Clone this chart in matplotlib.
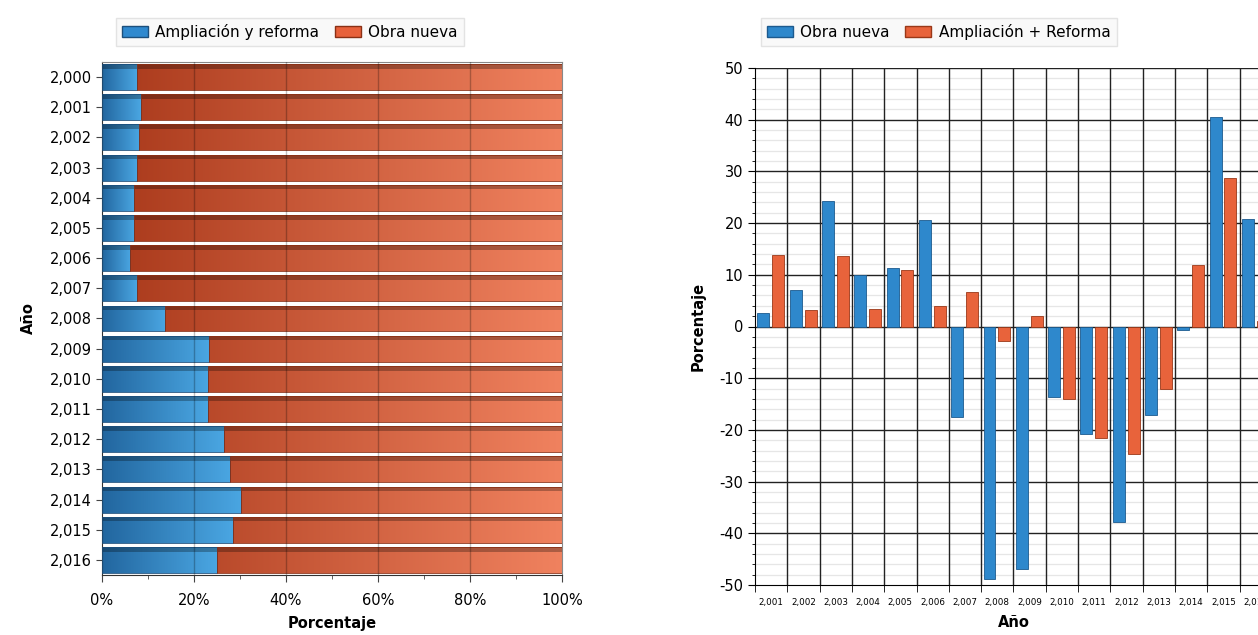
import numpy as np
import matplotlib
matplotlib.use('Agg')
import matplotlib.pyplot as plt
from matplotlib.colors import LinearSegmentedColormap
from matplotlib.patches import Patch
from matplotlib.ticker import MultipleLocator, FixedLocator

# left chart: share of each type (100% stacked)
years_left = [2000, 2001, 2002, 2003, 2004, 2005, 2006, 2007, 2008,
              2009, 2010, 2011, 2012, 2013, 2014, 2015, 2016]
ampliacion_pct = [7.5, 8.4, 8.1, 7.5, 7.0, 7.0, 6.1, 7.6, 13.8,
                  23.2, 23.1, 23.0, 26.5, 27.9, 30.3, 28.4, 24.9]
obra_nueva_pct = [100 - a for a in ampliacion_pct]

# right chart: yearly change (%)
years_right = [2001, 2002, 2003, 2004, 2005, 2006, 2007, 2008,
               2009, 2010, 2011, 2012, 2013, 2014, 2015, 2016]
obra_nueva_var = [2.6, 7.1, 24.3, 10.0, 11.3, 20.6, -17.5, -48.9,
                  -46.9, -13.7, -20.8, -37.9, -17.2, -0.7, 40.6, 20.8]
ampliacion_var = [13.8, 3.2, 13.6, 3.4, 10.9, 4.0, 6.7, -2.9,
                  2.1, -14.1, -21.5, -24.6, -12.1, 11.8, 28.7, 1.1]

W, H = 1258, 635
fig = plt.figure(figsize=(W / 100, H / 100), dpi=100)
plt.rcParams['font.family'] = ['DejaVu Sans']


def grad_bar(ax, patch, c0, c1, x0, x1):
    cmap = LinearSegmentedColormap.from_list('g', [c0, c1])
    y = patch.get_y()
    h = patch.get_height()
    im = ax.imshow(np.linspace(0, 1, 256).reshape(1, -1), cmap=cmap,
                   extent=(x0, x1, y, y + h), aspect='auto', origin='lower',
                   zorder=2, interpolation='bilinear')
    im.set_clip_path(patch)
    # dark top face, fake 3d look (y axis is inverted, so low y is on top)
    ax.barh(y + h * 0.09, patch.get_width(), left=patch.get_x(), height=h * 0.18,
            color='black', alpha=0.28, zorder=3, linewidth=0)


# ---------------- left chart ----------------
ax1 = fig.add_axes([102 / W, 1 - 575 / H, 460 / W, 513 / H])
ypos = np.arange(len(years_left))
b1 = ax1.barh(ypos, ampliacion_pct, height=0.86, facecolor='none',
              edgecolor='#1c4f7c', linewidth=0.6, zorder=4)
b2 = ax1.barh(ypos, obra_nueva_pct, left=ampliacion_pct, height=0.86,
              facecolor='none', edgecolor='#8a3015', linewidth=0.6, zorder=4)
for p in b1:
    grad_bar(ax1, p, '#22669f', '#4aa6e2', 0, max(p.get_width(), 1))
for p in b2:
    grad_bar(ax1, p, '#a8381a', '#f0825f', 0, 100)

ax1.set_xlim(0, 100)
ax1.set_ylim(len(years_left) - 0.5, -0.5)
ax1.set_yticks(ypos)
ax1.set_yticklabels(['{:,}'.format(y) for y in years_left], fontsize=10.5)
ax1.set_xticks([0, 20, 40, 60, 80, 100])
ax1.set_xticklabels(['0%', '20%', '40%', '60%', '80%', '100%'], fontsize=10.5)
ax1.xaxis.set_minor_locator(MultipleLocator(10))
ax1.tick_params(axis='y', length=4, color='#444')
ax1.tick_params(axis='x', length=5, color='#444', pad=8)
ax1.tick_params(axis='x', which='minor', length=3, color='#444')
for x in [20, 40, 60, 80]:
    ax1.axvline(x, color='black', alpha=0.25, lw=1, zorder=5)
for s in ax1.spines.values():
    s.set_color('#888888')
ax1.spines['left'].set_color('#333333')
ax1.spines['bottom'].set_color('#333333')
ax1.set_xlabel('Porcentaje', fontsize=10.5, fontweight='bold', labelpad=6)
ax1.set_ylabel('Año', fontsize=10.5, fontweight='bold', labelpad=10)

leg1 = fig.legend(handles=[Patch(facecolor='#2f89cf', edgecolor='#1c4f7c', label='Ampliación y reforma'),
                           Patch(facecolor='#e8613b', edgecolor='#8a3015', label='Obra nueva')],
                  loc='upper left', bbox_to_anchor=(108 / W, 1 - 10 / H), ncol=2,
                  fontsize=11, frameon=True, fancybox=False, handlelength=1.7,
                  handleheight=0.8, columnspacing=1.0, handletextpad=0.5,
                  borderpad=0.4)
leg1.get_frame().set_edgecolor('#dddddd')
leg1.get_frame().set_facecolor('#f8f8f8')

# ---------------- right chart ----------------
cat_w = 32.3
ax2 = fig.add_axes([755 / W, 1 - 585 / H, 16 * cat_w / W, 517 / H])
ax2.set_axisbelow(True)
xpos = np.arange(len(years_right))
ax2.bar(xpos - 0.24, obra_nueva_var, width=0.37, color='#2e88cc',
        edgecolor='#1c5a8e', linewidth=0.6, zorder=3)
ax2.bar(xpos + 0.22, ampliacion_var, width=0.37, color='#e8633b',
        edgecolor='#9a3818', linewidth=0.6, zorder=3)
ax2.set_xlim(-0.5, len(years_right) - 0.5)
ax2.set_ylim(-50, 50)
ax2.set_yticks(range(-50, 51, 10))
ax2.set_yticklabels([str(v) for v in range(-50, 51, 10)], fontsize=10.5)
ax2.yaxis.set_minor_locator(MultipleLocator(2))
ax2.set_xticks(xpos)
ax2.set_xticklabels(['{:,}'.format(y) for y in years_right], fontsize=6.3)
ax2.xaxis.set_minor_locator(FixedLocator(np.arange(-0.5, len(years_right), 1)))
ax2.tick_params(axis='x', which='major', length=0, pad=9)
ax2.tick_params(axis='x', which='minor', length=5)
ax2.tick_params(axis='y', which='major', length=5)
ax2.tick_params(axis='y', which='minor', length=2.5)
ax2.grid(axis='y', which='minor', color='#e6e6e6', lw=0.9)
# category separators and major lines drawn as lines so they stay solid
for xb in np.arange(0.5, len(years_right), 1):
    ax2.axvline(xb, color='#222222', lw=1, zorder=1)
for yv in range(-40, 51, 10):
    ax2.axhline(yv, color='#222222', lw=1, zorder=1)
ax2.spines['top'].set_visible(False)
ax2.spines['right'].set_visible(False)
ax2.set_xlabel('Año', fontsize=10.5, fontweight='bold', labelpad=6)
ax2.set_ylabel('Porcentaje', fontsize=10.5, fontweight='bold', labelpad=10)

leg2 = fig.legend(handles=[Patch(facecolor='#2e88cc', edgecolor='#1c5a8e', label='Obra nueva'),
                           Patch(facecolor='#e8633b', edgecolor='#9a3818', label='Ampliación + Reforma')],
                  loc='upper left', bbox_to_anchor=(753 / W, 1 - 10 / H), ncol=2,
                  fontsize=11, frameon=True, fancybox=False, handlelength=1.7,
                  handleheight=0.8, columnspacing=1.0, handletextpad=0.5,
                  borderpad=0.4)
leg2.get_frame().set_edgecolor('#dddddd')
leg2.get_frame().set_facecolor('#f8f8f8')

fig.savefig('out.png', dpi=100)
